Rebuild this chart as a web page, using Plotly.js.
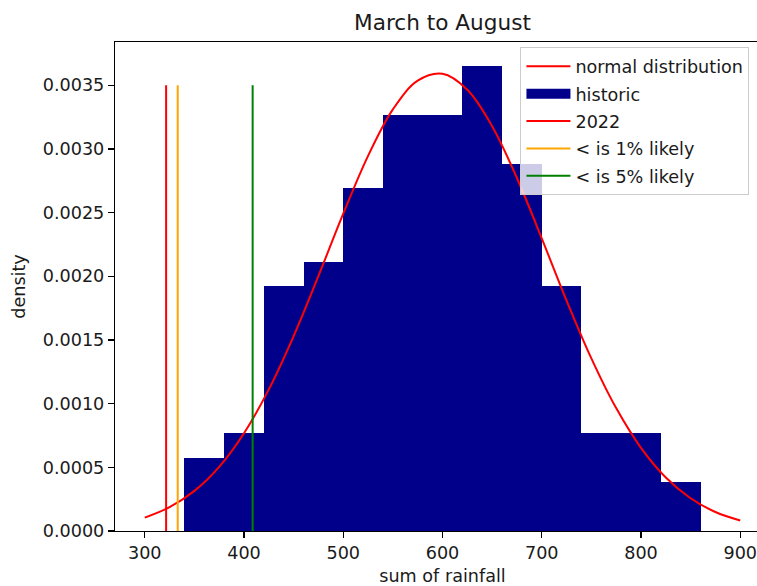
<!DOCTYPE html>
<html>
<head>
<meta charset="utf-8">
<script src="https://cdn.plot.ly/plotly-3.0.1.min.js"></script>
<style>
html,body{margin:0;padding:0;overflow:hidden;background:#fff;width:757px;height:586px;}
#chart{width:790px;height:586px;}
</style>
</head>
<body>
<div id="chart"></div>
<script>
// Histogram bins (left edge) and density values
var binLeft = [340, 380, 420, 460, 500, 540, 580, 620, 660, 700, 740, 780, 820];
var binWidth = 40;
var density = [0.000577, 0.000769, 0.001923, 0.002115, 0.002692, 0.003269, 0.003269, 0.003654, 0.002885, 0.001923, 0.000769, 0.000769, 0.000385];

// Normal distribution curve
var normX = [300, 325, 350, 375, 400, 425, 450, 475, 500, 525, 550, 575, 600, 625, 650, 675, 700, 725, 750, 775, 800, 825, 850, 875, 900];
var normY = [0.000105, 0.000187, 0.000315, 0.000504, 0.000768, 0.001112, 0.001531, 0.002003, 0.002492, 0.002946, 0.003311, 0.003536, 0.003590, 0.003465, 0.003179, 0.002772, 0.002298, 0.001810, 0.001356, 0.000965, 0.000653, 0.000420, 0.000257, 0.000149, 0.000082];

// Vertical markers
var markerNames = ["2022", "< is 1% likely", "< is 5% likely"];
var markerX = [321.5, 333.2, 408.7];
var markerTop = 0.0035;
var markerColors = ["red", "orange", "green"];

var font = "DejaVu Sans, sans-serif";
var txt = "#1a1a1a";
var fs = 17.6;

var traces = [];
traces.push({
  type: "bar",
  x: binLeft.map(function(v){return v + binWidth/2;}),
  y: density,
  width: binWidth,
  marker: {color: "#00008b", line: {width: 0}},
  name: "historic",
  showlegend: false
});
traces.push({
  type: "scatter",
  mode: "lines",
  x: normX,
  y: normY,
  line: {color: "red", width: 2, shape: "spline"},
  name: "normal distribution",
  legendgroup: "g1",
  legendrank: 1
});
// legend-only swatch for the histogram
traces.push({
  type: "scatter",
  mode: "lines",
  x: [null],
  y: [null],
  line: {color: "#00008b", width: 14},
  name: "historic",
  legendgroup: "g2",
  legendrank: 2
});
for (var i = 0; i < markerX.length; i++) {
  traces.push({
    type: "scatter",
    mode: "lines",
    x: [markerX[i], markerX[i]],
    y: [0, markerTop],
    line: {color: markerColors[i], width: 2},
    name: markerNames[i],
    legendgroup: "g" + (3 + i),
    legendrank: 3 + i
  });
}

var layout = {
  width: 790,
  height: 586,
  margin: {l: 115, r: 20, t: 41.7, b: 54.5},
  paper_bgcolor: "#fff",
  plot_bgcolor: "#fff",
  font: {family: font, size: fs, color: txt},
  title: {text: "March to August", font: {family: font, size: 21.6, color: txt}, x: 0.5, xanchor: "center", xref: "paper", y: 1, yref: "paper", yanchor: "bottom", pad: {b: 12}},
  bargap: 0,
  showlegend: true,
  legend: {
    x: 0.619, y: 0.989, xanchor: "left", yanchor: "top",
    bgcolor: "rgba(255,255,255,0.8)",
    bordercolor: "#cccccc", borderwidth: 1,
    font: {family: font, size: fs, color: txt},
    traceorder: "grouped",
    tracegroupgap: 1.5,
    itemwidth: 44
  },
  xaxis: {
    range: [270, 930],
    tickvals: [300, 400, 500, 600, 700, 800, 900],
    ticktext: ["300", "400", "500", "600", "700", "800", "900"],
    ticks: "outside", ticklen: 6, tickwidth: 1.2, tickcolor: "#000",
    showline: true, linecolor: "#000", linewidth: 1.2, mirror: true,
    showgrid: false, zeroline: false,
    tickfont: {family: font, size: fs, color: txt},
    title: {text: "sum of rainfall", font: {family: font, size: fs, color: txt}, standoff: 7}
  },
  yaxis: {
    range: [0, 0.00384],
    tickvals: [0, 0.0005, 0.001, 0.0015, 0.002, 0.0025, 0.003, 0.0035],
    ticktext: ["0.0000", "0.0005", "0.0010", "0.0015", "0.0020", "0.0025", "0.0030", "0.0035"],
    ticks: "outside", ticklen: 6, tickwidth: 1.2, tickcolor: "#000",
    showline: true, linecolor: "#000", linewidth: 1.2, mirror: true,
    showgrid: false, zeroline: false,
    tickfont: {family: font, size: fs, color: txt},
    title: {text: "density", font: {family: font, size: fs, color: txt}, standoff: 12}
  }
};

Plotly.newPlot("chart", traces, layout, {displayModeBar: false, staticPlot: true});
</script>
</body>
</html>
